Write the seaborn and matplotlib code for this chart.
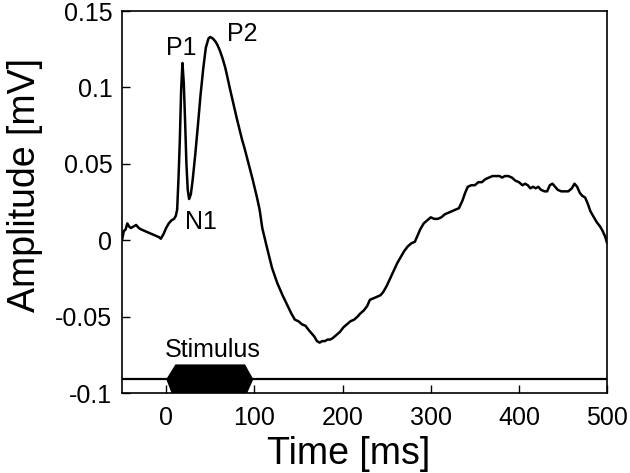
import pandas as pd
import seaborn as sns
import matplotlib.pyplot as plt
from matplotlib.patches import Polygon

# averaged evoked response
time_ms = [-50, -48, -46, -44, -42, -40, -37, -34, -31, -28, -24, -20, -16, -12, -8, -6, -3,
           0, 3, 6, 9, 11, 12.5, 14, 15.5, 17, 18.5, 20, 21.5, 23, 24.5, 26, 28, 30, 33, 36,
           39, 42, 45, 48, 50, 53, 56, 58, 61, 64, 67, 69, 72, 76, 80, 83, 86, 89, 93, 98,
           103, 106, 109, 114, 120, 126, 132, 137, 142, 146, 150, 154, 158, 162, 165, 168,
           171, 174, 177, 180, 183, 186, 189, 193, 197, 201, 205, 209, 213, 217, 220, 224,
           228, 231, 235, 239, 243, 246, 250, 254, 258, 262, 266, 270, 274, 278, 282, 285,
           288, 292, 296, 300, 304, 308, 312, 316, 320, 324, 328, 332, 336, 339, 342, 346,
           350, 354, 358, 362, 366, 370, 374, 378, 381, 384, 388, 392, 396, 400, 404, 407,
           410, 413, 416, 419, 422, 425, 429, 432, 435, 438, 441, 444, 448, 452, 456, 460,
           463, 466, 469, 472, 475, 478, 481, 484, 488, 492, 495, 498, 500]
amplitude_mv = [0.000, 0.006, 0.007, 0.011, 0.009, 0.008, 0.009, 0.010, 0.008, 0.007, 0.006,
                0.005, 0.004, 0.003, 0.002, 0.001, 0.004, 0.008, 0.011, 0.013, 0.014, 0.016,
                0.020, 0.040, 0.065, 0.098, 0.116, 0.103, 0.078, 0.050, 0.033, 0.027, 0.030,
                0.039, 0.056, 0.075, 0.095, 0.112, 0.126, 0.132, 0.133, 0.132, 0.130, 0.128,
                0.124, 0.119, 0.113, 0.108, 0.100, 0.090, 0.080, 0.073, 0.066, 0.060, 0.051,
                0.040, 0.028, 0.020, 0.008, -0.004, -0.018, -0.028, -0.036, -0.042, -0.048,
                -0.052, -0.053, -0.055, -0.056, -0.059, -0.061, -0.063, -0.066, -0.067, -0.066,
                -0.066, -0.065, -0.065, -0.064, -0.062, -0.060, -0.057, -0.055, -0.053, -0.052,
                -0.050, -0.048, -0.046, -0.043, -0.039, -0.038, -0.037, -0.036, -0.034, -0.030,
                -0.025, -0.020, -0.015, -0.011, -0.007, -0.004, -0.002, -0.001, 0.003, 0.007,
                0.011, 0.013, 0.015, 0.014, 0.014, 0.015, 0.017, 0.018, 0.019, 0.020, 0.021,
                0.026, 0.031, 0.035, 0.036, 0.036, 0.038, 0.038, 0.040, 0.041, 0.042, 0.042,
                0.042, 0.041, 0.042, 0.042, 0.041, 0.039, 0.038, 0.036, 0.037, 0.036, 0.034,
                0.035, 0.034, 0.035, 0.033, 0.032, 0.032, 0.036, 0.037, 0.035, 0.033, 0.032,
                0.032, 0.032, 0.034, 0.037, 0.035, 0.031, 0.029, 0.028, 0.024, 0.019, 0.016,
                0.012, 0.009, 0.006, 0.002, -0.002]

# peak labels
peak_names = ["P1", "N1", "P2"]
peak_x = [17, 40, 86]
peak_y = [0.126, 0.012, 0.135]

# stimulus bar
stim_level = -0.091
stim_x = [1, 11, 89, 98, 91, 7]
stim_y = [-0.091, -0.0817, -0.0817, -0.091, -0.1, -0.1]

df = pd.DataFrame({"Time": time_ms, "Amplitude": amplitude_mv})

sns.set_style("ticks", {"axes.edgecolor": "black", "text.color": "black",
                        "xtick.color": "black", "ytick.color": "black",
                        "axes.labelcolor": "black"})
plt.rcParams["font.family"] = ["Liberation Sans", "DejaVu Sans"]

fig = plt.figure(figsize=(6.3, 4.73), dpi=100)
ax = fig.add_axes([0.1937, 0.169, 0.77, 0.8077])

sns.lineplot(data=df, x="Time", y="Amplitude", color="black", linewidth=1.8, ax=ax)

ax.axhline(stim_level, color="black", linewidth=1.6)
ax.add_patch(Polygon(list(zip(stim_x, stim_y)), closed=True, facecolor="black",
                     edgecolor="black", clip_on=True))
ax.text(53, -0.0715, "Stimulus", ha="center", va="center", fontsize=18)

for name, x, y in zip(peak_names, peak_x, peak_y):
    ax.text(x, y, name, ha="center", va="center", fontsize=18)

ax.set_xlim(-50, 500)
ax.set_ylim(-0.1, 0.15)
ax.set_xticks([0, 100, 200, 300, 400, 500])
ax.set_yticks([-0.1, -0.05, 0, 0.05, 0.1, 0.15])
ax.set_yticklabels(["-0.1", "-0.05", "0", "0.05", "0.1", "0.15"])
ax.tick_params(direction="in", length=6, width=1, labelsize=18)
ax.tick_params(axis="x", pad=9.5)
ax.tick_params(axis="y", pad=7)

for s in ax.spines.values():
    s.set_visible(True)
    s.set_linewidth(1.2)

ax.set_xlabel("Time [ms]", fontsize=27, labelpad=4)
ax.set_ylabel("Amplitude [mV]", fontsize=27, labelpad=9)
ax.xaxis.label.set_x(0.468)
ax.yaxis.label.set_y(0.545)

plt.savefig("out.png", dpi=100)
